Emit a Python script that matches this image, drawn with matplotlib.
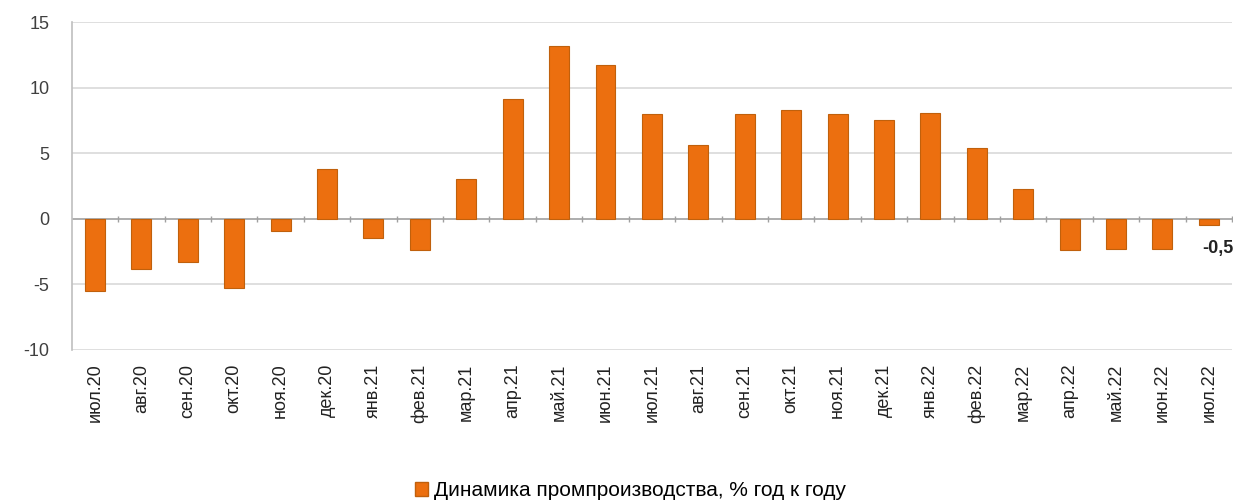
import matplotlib
matplotlib.use('Agg')
import matplotlib.pyplot as plt
import matplotlib.patches as mpatches
import numpy as np

plt.rcParams['font.family'] = ['Liberation Sans', 'DejaVu Sans']

months = ['июл.20', 'авг.20', 'сен.20', 'окт.20', 'ноя.20', 'дек.20', 'янв.21', 'фев.21',
          'мар.21', 'апр.21', 'май.21', 'июн.21', 'июл.21', 'авг.21', 'сен.21', 'окт.21',
          'ноя.21', 'дек.21', 'янв.22', 'фев.22', 'мар.22', 'апр.22', 'май.22', 'июн.22',
          'июл.22']
values = [-5.5, -3.8, -3.3, -5.3, -0.9, 3.8, -1.5, -2.4, 3.0, 9.1, 13.2, 11.7,
          8.0, 5.6, 8.0, 8.3, 8.0, 7.5, 8.1, 5.4, 2.3, -2.4, -2.3, -2.3, -0.5]
y_ticks = [-10, -5, 0, 5, 10, 15]
legend_label = 'Динамика промпроизводства, % год к году'

fig = plt.figure(figsize=(12.37, 5.04), dpi=100)
ax = fig.add_axes([0.058, 0.306, 0.938, 0.650])

x = np.arange(len(months))
ax.bar(x, values, width=0.43, color='#ec6f0f', edgecolor='#c0600c', linewidth=0.8, zorder=3)

ax.set_xlim(-0.5, len(months) - 0.5)
ax.set_ylim(-10, 15)
ax.set_yticks(y_ticks)
ax.set_yticklabels([str(v) for v in y_ticks], fontsize=13, color='#404040')
ax.set_xticks(x)
ax.set_xticklabels(months, rotation=90, fontsize=13, color='#222222')
ax.tick_params(axis='x', length=0, pad=10)
ax.tick_params(axis='y', length=0, pad=16)

for v in y_ticks:
    if v != 0:
        ax.axhline(v, color='#d9d9d9', linewidth=1.2, zorder=1)
ax.axhline(0, color='#a0a0a0', linewidth=1.2, zorder=2)
ax.plot(x + 0.5, np.zeros(len(x)), '|', color='#a0a0a0', markersize=5, zorder=2)

for side in ['top', 'right', 'bottom']:
    ax.spines[side].set_visible(False)
ax.spines['left'].set_color('#bfbfbf')
ax.spines['left'].set_linewidth(1.2)

# подпись последнего значения
ax.text(x[-1] - 0.15, values[-1] - 1.1, f'{values[-1]:.1f}'.replace('.', ','),
        fontsize=13, fontweight='bold', ha='left', va='top', color='#222222')

patch = mpatches.Patch(facecolor='#ec6f0f', edgecolor='#c0600c', label=legend_label)
fig.legend(handles=[patch], loc='lower center', bbox_to_anchor=(0.51, -0.03), frameon=False,
           fontsize=15, handlelength=0.6, handleheight=0.6, handletextpad=0.3)

fig.savefig('out.png', dpi=100)
